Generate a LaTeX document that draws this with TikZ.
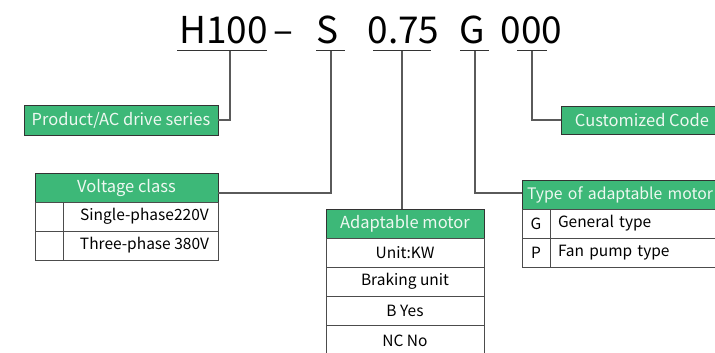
\documentclass[tikz,border=0pt]{standalone}
\usepackage{fontspec}
\setmainfont{Noto Sans CJK SC}
\usetikzlibrary{positioning,calc}
\definecolor{codegreen}{HTML}{3DB878}
\definecolor{headtext}{HTML}{EEF8F1}
\definecolor{linegray}{HTML}{5A5A5A}
\tikzset{
  code/.style={font=\fontsize{37}{40}\selectfont, inner sep=0pt, anchor=base},
  head/.style={draw=black!80, fill=codegreen, text=headtext, font=\fontsize{16.5}{18}\selectfont,
    minimum height=29pt, inner sep=0pt, outer sep=0pt, anchor=north west},
  cell/.style={draw=black!70, fill=white, font=\fontsize{15.5}{18}\selectfont,
    minimum height=29pt, inner sep=0pt, outer sep=0pt, anchor=north west},
  link/.style={draw=linegray, line width=1.1pt},
  uline/.style={draw=black!80, line width=1pt}
}

\begin{document}
\begin{tikzpicture}[x=1pt,y=-1pt]
	\useasboundingbox (0,0) rectangle (715,353);
	\clip (0,0) rectangle (715,353);
	
	% model code
	\node[code] (h100) at (223.5,43.5) {H100};
	\node[code] (dash) at (283,43.5) {–};
	\node[code] (volts) at (327.5,43.5) {S};
	\node[code] (power) at (403.5,43.5) {0.75};
	\node[code] (kind) at (472.5,43.5) {G};
	\node[code] (zero) at (531.5,43.5) {000};
	
	\coordinate (h100t) at (230,51);
	\coordinate (voltst) at (331,51);
	\coordinate (powert) at (402,51);
	\coordinate (kindt) at (475,51);
	\coordinate (zerot) at (532,51);
	
	\draw[uline] (177,51) -- (267,51);
	\draw[uline] (316,51) -- (345,51);
	\draw[uline] (373,51) -- (431,51);
	\draw[uline] (460,51) -- (489,51);
	\draw[uline] (517,51) -- (547,51);
	
	% series
	\node[head, minimum width=194pt, minimum height=30pt] (prod) at (24,105) {Product/AC drive series};
	
	% voltage class
	\node[head, minimum width=183pt] (volt) at (35,173) {Voltage class};
	\node[cell, minimum width=28pt] (voltk1) at (volt.south west) {};
	\node[cell, minimum width=155pt, execute at begin node={\hspace*{8pt}}] (volt1) at (voltk1.north east) {Single-phase220V};
	\node[cell, minimum width=28pt] (voltk2) at (voltk1.south west) {};
	\node[cell, minimum width=155pt, execute at begin node={\hspace*{8pt}}] (volt2) at (voltk2.north east) {Three-phase 380V};
	
	% adaptable motor
	\node[head, minimum width=158pt] (adapt) at (326,209) {Adaptable motor};
	\node[cell, minimum width=158pt] (unit) at (adapt.south west) {Unit:KW};
	\node[cell, minimum width=158pt] (brake) at (unit.south west) {Braking unit};
	\node[cell, minimum width=158pt] (yes) at (brake.south west) {B Yes};
	\node[cell, minimum width=158pt, minimum height=31pt] (no) at (yes.south west) {NC No};
	
	% motor type
	\node[head, minimum width=222pt, text width=212pt, inner xsep=5pt, align=left, font=\fontsize{15.8}{18}\selectfont] (type) at (522,180) {Type of adaptable motor};
	\node[cell, minimum width=28pt] (typek1) at (type.south west) {G};
	\node[cell, minimum width=194pt, text width=186pt, inner xsep=8pt, align=left] (type1) at (typek1.north east) {General type};
	\node[cell, minimum width=28pt] (typek2) at (typek1.south west) {P};
	\node[cell, minimum width=194pt, text width=186pt, inner xsep=8pt, align=left] (type2) at (typek2.north east) {Fan pump type};
	
	% customized
	\node[head, minimum width=162pt, minimum height=28pt] (cust) at (561,106) {Customized Code};
	
	% links
	\draw[link] (h100t) |- (prod.east);
	\draw[link] (voltst) |- ([yshift=-5.5pt]volt.east);
	\draw[link] (powert) -- (powert |- adapt.north);
	\draw[link] (kindt) |- ([yshift=1.5pt]type.west);
	\draw[link] (zerot) |- (cust.west);
\end{tikzpicture}
\end{document}
